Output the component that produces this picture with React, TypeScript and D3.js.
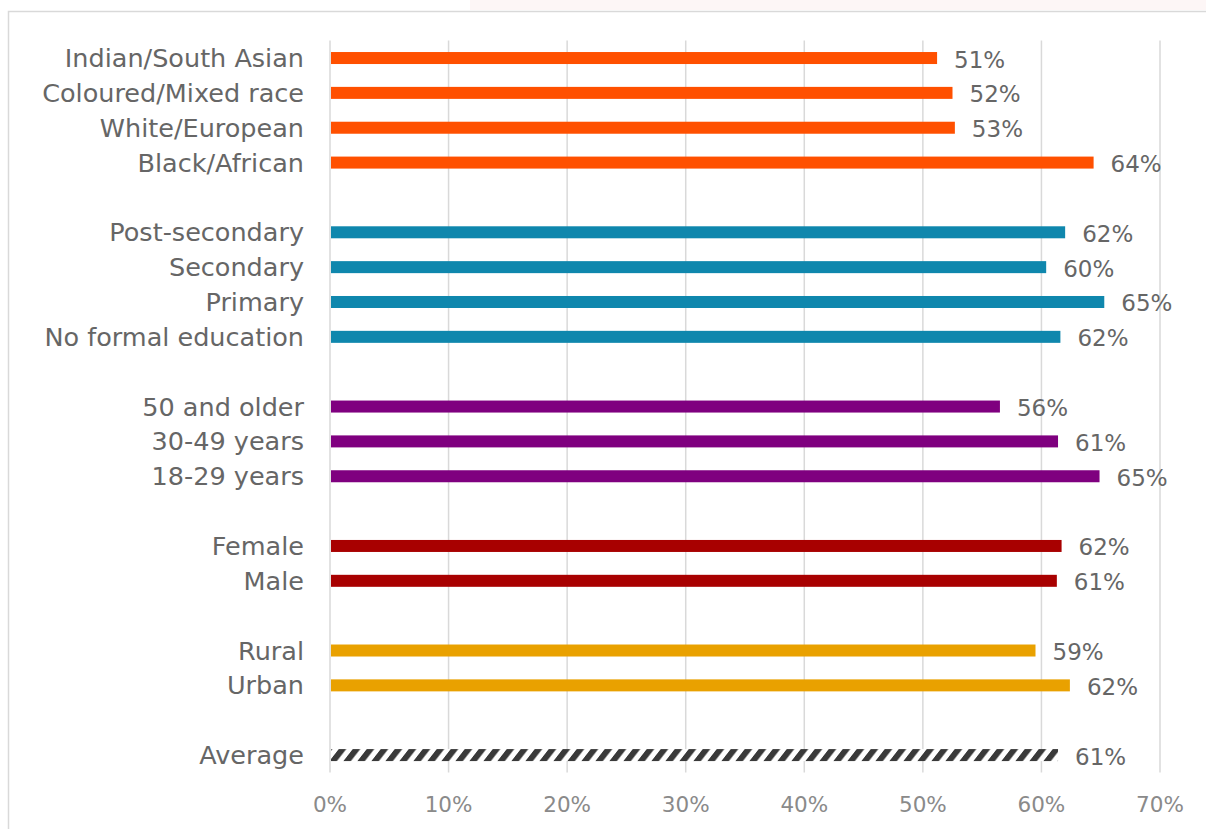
import React from "react";
import * as d3 from "d3";

const categories = [
  "Indian/South Asian", "Coloured/Mixed race", "White/European", "Black/African", "",
  "Post-secondary", "Secondary", "Primary", "No formal education", " ",
  "50 and older", "30-49 years", "18-29 years", "  ",
  "Female", "Male", "   ",
  "Rural", "Urban", "    ",
  "Average",
];
const values: (number | null)[] = [
  51.2, 52.5, 52.7, 64.4, null,
  62.0, 60.4, 65.3, 61.6, null,
  56.5, 61.4, 64.9, null,
  61.7, 61.3, null,
  59.5, 62.4, null,
  61.4,
];
const valueLabels = [
  "51%", "52%", "53%", "64%", "",
  "62%", "60%", "65%", "62%", "",
  "56%", "61%", "65%", "",
  "62%", "61%", "",
  "59%", "62%", "",
  "61%",
];
const groups = [
  "race", "race", "race", "race", "",
  "edu", "edu", "edu", "edu", "",
  "age", "age", "age", "",
  "sex", "sex", "",
  "loc", "loc", "",
  "avg",
];
const groupColors: Record<string, string> = {
  race: "#FF5000",
  edu: "#0F87AD",
  age: "#7F007F",
  sex: "#A80000",
  loc: "#E9A100",
  avg: "url(#hatch)",
};
const ticks = [0, 10, 20, 30, 40, 50, 60, 70];

export default function App() {
  const W = 1206, H = 829;
  const left = 330, right = 1160, top = 40.6, bottom = 772.5;
  const x = d3.scaleLinear().domain([0, 70]).range([left, right]);
  const y = d3.scaleBand().domain(categories).range([top, bottom]).paddingInner(0).paddingOuter(0);
  const bh = 12;
  const font = "'DejaVu Sans', sans-serif";
  return (
    <svg width={W} height={H} style={{ position: "absolute", left: 0, top: 0, background: "#fff" }}>
      <defs>
        <pattern id="hatch" patternUnits="userSpaceOnUse" width={14} height={14} patternTransform="skewX(-38)">
          <rect x={0} y={0} width={14} height={14} fill="#ffffff" />
          <rect x={0} y={0} width={7.5} height={14} fill="#3a3a3a" />
        </pattern>
      </defs>
      <rect x={470} y={0} width={736} height={10} fill="#fdf6f6" />
      <rect x={8.5} y={11.5} width={1300} height={900} fill="#fff" stroke="#d9d9d9" strokeWidth={1.5} />
      {ticks.map((t) => (
        <line key={t} x1={x(t)} x2={x(t)} y1={top} y2={bottom} stroke="#d9d9d9" strokeWidth={1.5} />
      ))}
      {ticks.map((t) => (
        <text key={"t" + t} x={x(t)} y={804} textAnchor="middle" dominantBaseline="central"
          fontFamily={font} fontSize={21.5} fill="#8a8a8a">{t + "%"}</text>
      ))}
      {categories.map((c, i) => {
        const v = values[i];
        if (v == null) return null;
        const cy = (y(c) as number) + y.bandwidth() / 2;
        return (
          <g key={c}>
            <rect x={x(0) + 1} y={cy - bh / 2} width={x(v) - x(0) - 1} height={bh} fill={groupColors[groups[i]]} />
            <text x={304} y={cy} textAnchor="end" dominantBaseline="central"
              fontFamily={font} fontSize={25.5} fill="#666666">{c}</text>
            <text x={x(v) + 17} y={cy + 1.5} textAnchor="start" dominantBaseline="central"
              fontFamily={font} fontSize={23} fill="#666666">{valueLabels[i]}</text>
          </g>
        );
      })}
    </svg>
  );
}
